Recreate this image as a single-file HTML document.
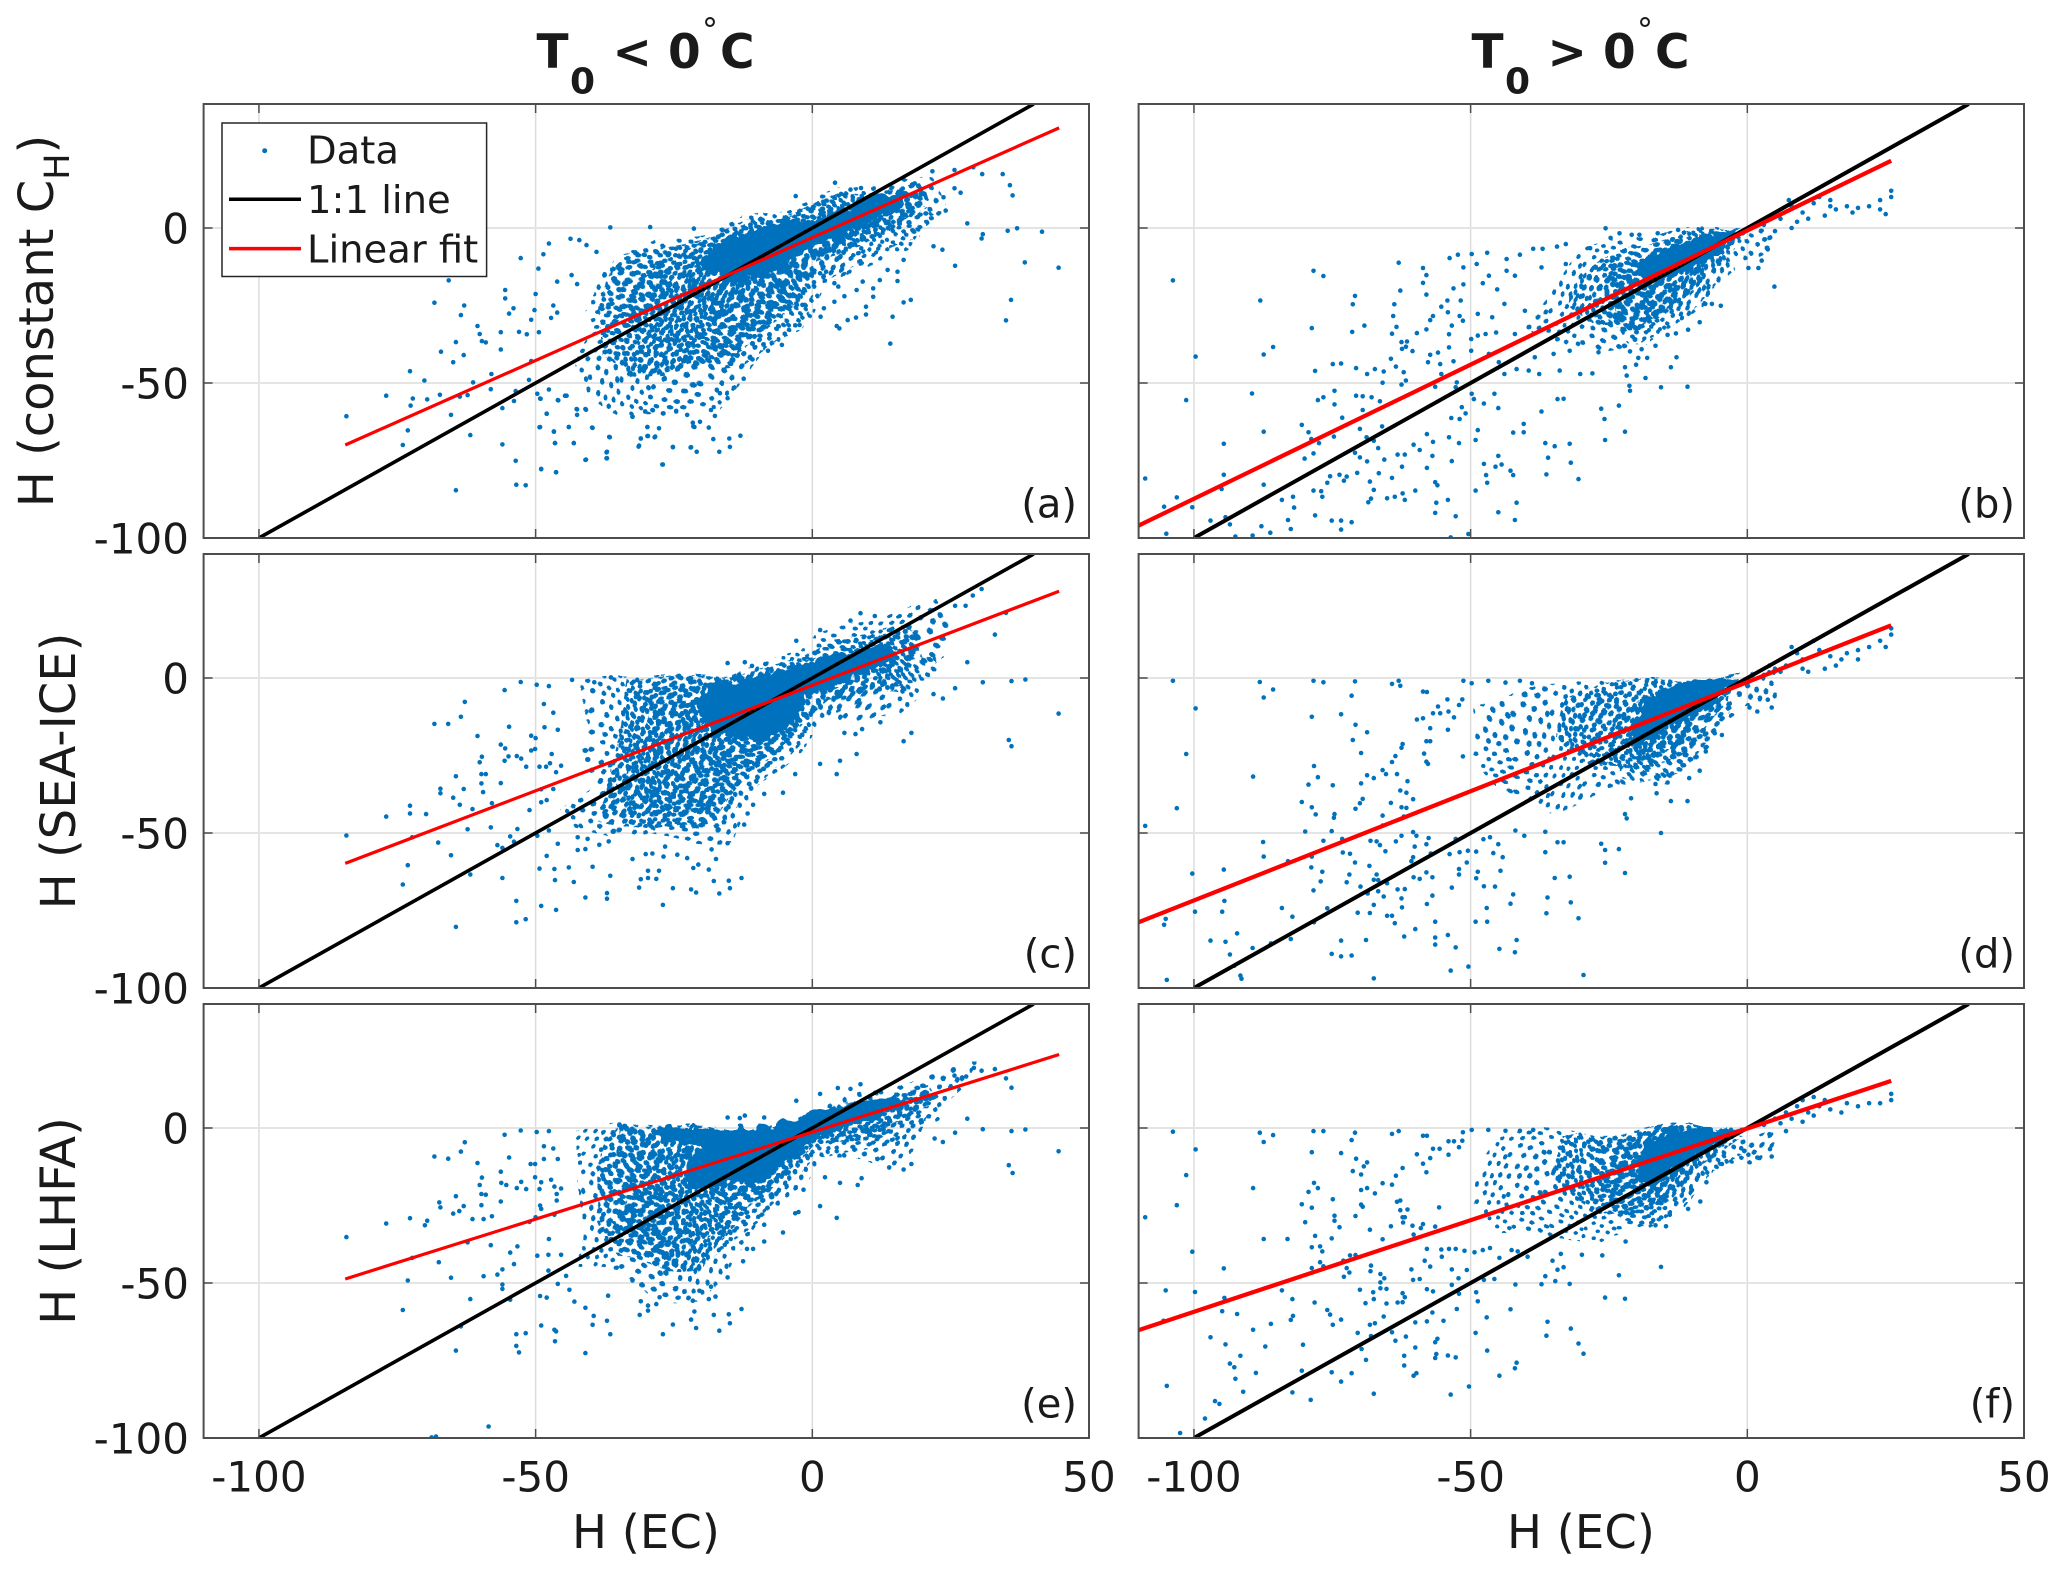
<!DOCTYPE html>
<html lang="en">
<head>
<meta charset="utf-8">
<title>Sensible heat flux comparison</title>
<style>
html,body{margin:0;padding:0;background:#fff}
svg{display:block}
text{font-family:"DejaVu Sans","Liberation Sans",sans-serif;fill:#1a1a1a}
pattern circle{r:2.5px}
</style>
</head>
<body>
<svg id="chart" xmlns="http://www.w3.org/2000/svg" width="2067" height="1572" viewBox="0 0 2067 1572">
<defs>
<filter id="jitter" x="-15%" y="-15%" width="130%" height="130%" color-interpolation-filters="sRGB"><feTurbulence type="fractalNoise" baseFrequency="0.014" numOctaves="1" seed="7" result="n"/><feDisplacementMap in="SourceGraphic" in2="n" scale="34" xChannelSelector="R" yChannelSelector="G"/></filter>
<filter id="rough" x="-15%" y="-15%" width="130%" height="130%" color-interpolation-filters="sRGB"><feTurbulence type="fractalNoise" baseFrequency="0.09" numOctaves="2" seed="3" result="n"/><feDisplacementMap in="SourceGraphic" in2="n" scale="18" xChannelSelector="R" yChannelSelector="G"/></filter>
<pattern id="scatterA" patternUnits="userSpaceOnUse" width="37" height="37" fill="#0072BD"><circle cx="5" cy="4" r="2.2"/><circle cx="14" cy="8" r="2.2"/><circle cx="24" cy="3" r="2.2"/><circle cx="32" cy="11" r="2.2"/><circle cx="9" cy="15" r="2.2"/><circle cx="20" cy="17" r="2.2"/><circle cx="29" cy="21" r="2.2"/><circle cx="4" cy="24" r="2.2"/><circle cx="13" cy="27" r="2.2"/><circle cx="23" cy="28" r="2.2"/><circle cx="33" cy="31" r="2.2"/><circle cx="7" cy="33" r="2.2"/><circle cx="17" cy="34" r="2.2"/><circle cx="27" cy="12" r="2.2"/></pattern>
<pattern id="scatterB" patternUnits="userSpaceOnUse" width="43" height="43" fill="#0072BD"><circle cx="4" cy="7" r="2.2"/><circle cx="11" cy="3" r="2.2"/><circle cx="19" cy="9" r="2.2"/><circle cx="28" cy="5" r="2.2"/><circle cx="37" cy="8" r="2.2"/><circle cx="7" cy="15" r="2.2"/><circle cx="15" cy="17" r="2.2"/><circle cx="24" cy="14" r="2.2"/><circle cx="33" cy="17" r="2.2"/><circle cx="40" cy="22" r="2.2"/><circle cx="3" cy="24" r="2.2"/><circle cx="11" cy="26" r="2.2"/><circle cx="20" cy="24" r="2.2"/><circle cx="28" cy="27" r="2.2"/><circle cx="36" cy="30" r="2.2"/><circle cx="6" cy="34" r="2.2"/><circle cx="15" cy="35" r="2.2"/><circle cx="24" cy="38" r="2.2"/><circle cx="32" cy="38" r="2.2"/><circle cx="39" cy="39" r="2.2"/></pattern>
<pattern id="scatterC" patternUnits="userSpaceOnUse" width="31" height="31" fill="#0072BD"><circle cx="4" cy="5" r="2.2"/><circle cx="12" cy="3" r="2.2"/><circle cx="21" cy="6" r="2.2"/><circle cx="27" cy="13" r="2.2"/><circle cx="8" cy="11" r="2.2"/><circle cx="16" cy="13" r="2.2"/><circle cx="3" cy="18" r="2.2"/><circle cx="11" cy="21" r="2.2"/><circle cx="20" cy="19" r="2.2"/><circle cx="27" cy="24" r="2.2"/><circle cx="6" cy="27" r="2.2"/><circle cx="15" cy="28" r="2.2"/><circle cx="23" cy="28" r="2.2"/></pattern>
<pattern id="scatterD" patternUnits="userSpaceOnUse" width="29" height="29" fill="#0072BD"><circle cx="3" cy="4" r="2.2"/><circle cx="11" cy="6" r="2.2"/><circle cx="19" cy="3" r="2.2"/><circle cx="25" cy="10" r="2.2"/><circle cx="7" cy="13" r="2.2"/><circle cx="15" cy="14" r="2.2"/><circle cx="22" cy="19" r="2.2"/><circle cx="4" cy="21" r="2.2"/><circle cx="12" cy="24" r="2.2"/><circle cx="20" cy="26" r="2.2"/><circle cx="26" cy="25" r="2.2"/></pattern>
</defs>

<g font-weight="bold" font-size="47">
<text x="536.5" y="68">T</text><text x="570" y="93.5" font-size="36">0</text><text x="612.5" y="68">&lt;</text><text x="668" y="68">0</text><text x="702" y="41" font-size="32" font-weight="normal">°</text><text x="720" y="68">C</text>
</g>
<g font-weight="bold" font-size="47">
<text x="1471.5" y="68">T</text><text x="1505" y="93.5" font-size="36">0</text><text x="1547.5" y="68">&gt;</text><text x="1603" y="68">0</text><text x="1637" y="41" font-size="32" font-weight="normal">°</text><text x="1655" y="68">C</text>
</g>

<text font-size="48" text-anchor="middle" transform="translate(53,321) rotate(-90)">H (constant C<tspan font-size="35" dy="16">H</tspan><tspan dy="-16">)</tspan></text>
<text font-size="48" text-anchor="middle" transform="translate(75,771) rotate(-90)">H (SEA-ICE)</text>
<text font-size="48" text-anchor="middle" transform="translate(75,1221) rotate(-90)">H (LHFA)</text>
<text font-size="46.5" text-anchor="middle" x="646" y="1548">H (EC)</text>
<text font-size="46.5" text-anchor="middle" x="1581" y="1548">H (EC)</text>

<g id="panels"></g>

<g>
<rect x="222" y="123" width="264.6" height="153.5" fill="#fff" stroke="#262626" stroke-width="1.5"/>
<circle cx="264.7" cy="150.7" r="2.5" fill="#0072BD"/>
<text x="307" y="163.6" font-size="38.5">Data</text>
<line x1="229" y1="199.3" x2="301" y2="199.3" stroke="#000" stroke-width="3.5"/>
<text x="307" y="213" font-size="38.5">1:1 line</text>
<line x1="229" y1="248.6" x2="301" y2="248.6" stroke="#f00" stroke-width="3.5"/>
<text x="307" y="262.5" font-size="38.5">Linear fit</text>
</g>
</svg>

<script>
const xTicks = [-100, -50, 0, 50];
const yTicks = [-100, -50, 0];
const identityLine = [[-100, -100], [40, 40]];

const fitA = [[-84.4, -70], [44.6, 32.3]];
const fitB = [[-110, -96], [26, 21.7]];
const fitC = [[-84.4, -59.8], [44.6, 28]];
const fitD = [[-110, -78.8], [26, 17]];
const fitE = [[-84.4, -48.7], [44.6, 23.7]];
const fitF = [[-110, -65.2], [26, 15.2]];

const cloudA = [[-34.4,-9.2],[-29.2,-2.8],[-19.6,-1.7],[-12.2,4.7],[-3.4,5.8],[4.7,12.3],[14.3,14.4],[21.7,15.5],[23.9,6.9],[20.2,-1.7],[17.3,-9.2],[8.4,-13.5],[0.3,-15.7],[-2.7,-31.8],[-9.3,-39.4],[-13,-46.9],[-17,-57],[-24,-58],[-34.4,-60],[-41.7,-54],[-43.2,-44.7],[-39.5,-34],[-41,-27.5],[-38.8,-21.1]];
const midA = [[-33,-7],[-20,-3],[-12,3],[-3,4.5],[4.5,10],[14,12],[20,13.5],[21,7],[15,-1],[9,-4],[0,-10],[-3,-22],[-9,-33],[-15,-41],[-24,-45],[-33,-48],[-38,-44],[-38,-34],[-38,-25]];
const denseA = [[-34.4,-27.5],[-28.5,-10.3],[-21.1,-3.9],[-12.2,1.5],[-3.4,3.6],[4.7,10.1],[18,12.3],[21,9],[17.3,0.4],[8.4,-3.9],[0.3,-9.2],[-2.7,-21],[-8.6,-31.6],[-15.2,-38],[-23.3,-40.2],[-31.4,-41.3]];
const coreA = [[-20,-12],[-18,-6],[-12.2,-1.7],[-4.9,2.6],[1,2.6],[9.9,10.1],[18,11.2],[14.3,4.2],[8.4,-0.1],[-1.2,-7.1],[-4,-13],[-9.3,-16],[-15,-17.5]];

const cloudB = [[-36.5,-20.2],[-29.1,-7.3],[-23.2,-3],[-14.4,-1.4],[-1.8,0],[4.8,2.9],[4.8,-6.2],[-4.1,-11.6],[-7,-23.4],[-17.3,-35.3],[-26.9,-40.6],[-35.8,-35.3],[-40.2,-31]];
const midB = [[-32.1,-20.2],[-26.9,-13.8],[-21.8,-6.2],[-14.4,-3],[-3.3,-0.6],[0.4,-0.3],[-4.1,-10.5],[-10.7,-21.3],[-19.5,-32],[-26.9,-31],[-32.1,-24.5]];
const denseB = [[-25.4,-24.5],[-24,-15.9],[-19.5,-8.4],[-14.4,-5.2],[-7,-3],[-4.1,-7.3],[-8.5,-14.8],[-14.4,-24.5],[-20.3,-32],[-24,-30.9]];
const coreB = [[-20.3,-11.6],[-15.9,-7.3],[-7,-1.4],[-1.1,-0.3],[-4.1,-7.3],[-12.2,-14.3],[-17.3,-17],[-19.9,-15.9]];

const cloudC = [[-42.6,-3],[-36.1,0],[-16,0],[-8.7,4],[-1.5,8.8],[1.8,15.8],[8.2,19.6],[12.3,19.6],[21.9,23.9],[24.4,17.4],[22.7,7.7],[18.7,1.3],[17.9,-8.4],[14.7,-14.8],[8.2,-13.8],[0.2,-11.6],[-2.3,-20.2],[-7.1,-28.8],[-11.9,-40.6],[-15.2,-52.5],[-21.6,-54.6],[-28.1,-50.3],[-42.6,-48.2],[-45,-42.8],[-40.2,-35.3],[-42.2,-24.5],[-41,-15.9],[-42.2,-8.4]];
const midC = [[-33.7,-0.9],[-15.2,-0.3],[-5.5,2.9],[0.2,7.7],[4.2,13.1],[16.3,16.3],[20.3,12],[17.1,2.4],[15.5,-7.3],[2.6,-7.3],[-3.1,-15.9],[-8.7,-26.7],[-14.4,-37.4],[-20,-47.1],[-28.1,-48.2],[-37.7,-44.9],[-37.7,-33.1],[-36.1,-19.1],[-34.5,-8.4]];
const denseC = [[-31.3,-6.2],[-20,-0.9],[-3.9,2.4],[8.2,11],[19.5,14.2],[19.5,6.7],[12.3,0.2],[0.2,-6.2],[-5.5,-20.2],[-11.9,-29.9],[-20,-42.8],[-29.7,-43.9],[-36.1,-35.3],[-36.1,-20.2]];
const coreC = [[-18,-1],[-11.9,-0.3],[-4.7,2.4],[-0.6,5.6],[7.4,8.8],[14.7,11],[14.7,5.6],[5.8,-0.9],[-0.6,-5.2],[-3.1,-13.8],[-7.9,-19.7],[-15.2,-20.2],[-20,-13.8],[-20.8,-6.2]];

const cloudD = [[-49,-10.5],[-40.2,-5.2],[-33.6,-1.9],[-28.4,-0.3],[-1.8,0],[4.8,1.3],[4.8,-7.3],[-3.3,-10.5],[-7,-23.4],[-18.1,-33.1],[-26.9,-39.6],[-35,-41.7],[-45.4,-35.3],[-49.8,-24.5]];
const midD = [[-33.6,-7.3],[-26.2,-0.9],[-3.3,-0.3],[-4.1,-8.4],[-9.2,-20.2],[-18.8,-29.9],[-27.7,-29.9],[-30.6,-24.5],[-35,-18.1]];
const denseD = [[-24.7,-28.8],[-24,-13.8],[-18.1,-5.2],[-7,-1.4],[-4.1,-6.2],[-10,-15.9],[-16.6,-26.7],[-23.2,-28.8]];
const coreD = [[-18.8,-7.3],[-12.9,-1.9],[-4.1,-0.6],[-1.8,-0.9],[-7,-9.5],[-12.9,-14.8],[-17.3,-20],[-21,-22],[-21,-16]];

const cloudE = [[-43.4,-0.3],[-11.9,0.4],[-4.7,3.4],[-1.5,7.2],[4.2,11],[9,13.7],[20.3,16.9],[29.2,19.6],[26.8,12],[19.5,3.4],[18.7,-6.2],[15.5,-13.8],[9,-10.5],[0.2,-10.5],[-3.9,-17],[-9.5,-28.8],[-11.9,-39.6],[-15.2,-49.2],[-21.6,-54.6],[-28.1,-54.6],[-37,-44.9],[-43.4,-42.8],[-41,-33.1],[-41.8,-20.2],[-41.8,-10.5]];
const midE = [[-34.5,-0.6],[-11.9,0],[-3.9,2.9],[4.2,8.8],[13.1,12],[20.3,14.2],[21.1,8.8],[15.5,2.4],[11.5,-3],[0.2,-6.2],[-4.7,-14.8],[-11.9,-25.6],[-15.2,-35.3],[-20,-46],[-26.5,-44.9],[-34.5,-41.7],[-37.7,-29.9],[-37.7,-15.9],[-36.9,-6.2]];
const denseE = [[-34.5,-0.9],[-11.9,-0.2],[-2.3,3.4],[10.6,9.9],[20.3,13.1],[20.3,7.7],[11.5,0.2],[0.2,-5.2],[-5.5,-15.9],[-12.7,-26.7],[-20,-38.5],[-29.7,-39.6],[-36.1,-28.8],[-34.5,-11.6]];
const coreE = [[-28.1,0],[-10.3,0],[-3.1,3.4],[1,6.1],[10.6,8.8],[15.5,11],[16.3,6.7],[6.6,0.2],[-0.2,-4.1],[-3.1,-10.5],[-7.9,-15.9],[-15.2,-18.1],[-22.4,-20.2],[-23.2,-11.6],[-20,-6.2],[-27.3,-4.1]];

const cloudF = [[-49,-10.5],[-45.4,-3],[-34.3,0],[0.4,0.2],[4.8,0.8],[4.8,-8.4],[-4.1,-11.6],[-9.2,-20.2],[-14.4,-28.8],[-26.2,-39.6],[-36.7,-37.4],[-45.4,-35.3],[-49.8,-22.4]];
const midF = [[-33.6,-3],[-29.9,-0.3],[-1.1,-0.1],[-5.5,-9.5],[-11.4,-17],[-19.5,-28.8],[-26.9,-26.7],[-29.9,-22.4],[-35,-15.9]];
const denseF = [[-24,-24.5],[-27.7,-11.6],[-21.8,-1.9],[-2.6,-0.6],[-7,-8.4],[-13.6,-17],[-19.5,-27.7]];
const coreF = [[-18.8,-5.2],[-14.4,-0.6],[-0.4,0],[-4.1,-4.1],[-11.4,-11.6],[-16.6,-18.1],[-18.8,-18.1],[-20.3,-11.6]];

const pointsA = [[-84.2,-60.7],[-77,-54.1],[-72.7,-46.2],[-70.1,-49.2],[-72.2,-55],[-72.6,-57.3],[-69.6,-55.3],[-67.3,-53.8],[-73.1,-65.3],[-74,-70],[-68.3,-24.1],[-65.7,-16.9],[-62.9,-25],[-63.5,-28.1],[-60.5,-31.6],[-60.1,-34.2],[-59.7,-36.5],[-59,-36.9],[-64.4,-36.8],[-67.1,-39.9],[-63,-41],[-64.9,-43.3],[-58,-47.1],[-61.3,-49.8],[-58.1,-52],[-63.7,-54.4],[-62.3,-53.9],[-65.3,-60.3],[-61.8,-66.8],[-56,-58.1],[-53.9,-55.8],[-56,-69.8],[-53.6,-75.1],[-64.4,-84.6],[-53.5,-82.8],[-51.8,-83],[-55.5,-20],[-55.5,-22.7],[-54,-25.9],[-54.8,-27.6],[-50,-21.3],[-52.7,-9.7],[-49.5,-13.1],[-48.6,-8.5],[-47.6,-5],[-43.7,-3.5],[-42.1,-3.9],[-40.8,-5.5],[-39,-7.7],[-46.1,-17.3],[-43.5,-15.2],[-42.5,-18.1],[-50.8,-29.6],[-50.2,-26.5],[-56.3,-33.6],[-53,-33.5],[-51.6,-34.3],[-49.4,-33.6],[-47.2,-29],[-46.8,-25],[-46.1,-27.3],[-56.3,-39.2],[-50.8,-42.9],[-51.2,-49],[-53.6,-52.6],[-47.6,-52.1],[-49.2,-55],[-46,-55.5],[-48,-59.9],[-42.6,-58.4],[-41,-58.4],[-44.4,-54.1],[-49.2,-64.2],[-46.7,-65.7],[-44,-64.2],[-46.5,-69.4],[-43.1,-69.4],[-39.8,-64.4],[-36.7,-67.4],[-41,-74.8],[-37.1,-72.2],[-37.1,-74.3],[-49,-77.8],[-46.3,-78.8],[-32.5,-60.9],[-29.8,-64.2],[-31,-67.9],[-28.4,-67.3],[-31.3,-70.2],[-29.7,-67.1],[-25.2,-70.7],[-27,-76.3],[-21.9,-70.7],[-21.3,-64.2],[-30.2,-59.2],[-28.8,-58.8],[-26.9,-59.8],[-24.6,-59.2],[-36.5,0.2],[-29.3,0.3],[-21.4,-0.2],[44.5,-12.8],[38.4,-11.1],[41.5,-1.2],[37,-0.1],[35.3,-0.9],[35.7,13.8],[36.2,10.5],[34.4,17.4],[30.7,17.4],[29.1,19.6],[25.7,18.7],[35.9,-23.2],[35,-29.8],[14.1,-37.3],[17.8,-23.2],[16.5,-24],[14.5,-28.6],[28,1.5],[30.8,-2],[30.6,-3.4],[25.8,-12.2],[23.5,-7],[21.9,-5.9],[26.8,11.4],[25.7,12.8],[24.1,5.6],[23.7,9.9],[21.7,18.3],[18.5,14.4],[16.5,15.7],[4.9,-32.4],[4.4,-31.6],[9.7,-27.9],[9.7,-25.4],[7.9,-28.9],[6.4,-29.7],[1.5,-28.6],[2.1,-25.9],[4.1,14.6],[-3,10.3],[6.9,12.4],[8.8,12.9],[-13,-67],[-15,-67.9],[-14.9,-70.6],[-16.8,-72.2],[-20.9,-72.2],[-22,-70.8],[-17.9,-68.1],[-18.7,-64.4],[-17.6,-60.6],[-18.3,-58.7],[-15.3,-54.9],[-16.7,-53.3],[-12.4,-48.6],[-10.8,-42.4],[-8,-39.6],[-5.5,-37.7],[-2.3,-31.3],[-1.8,-24.8],[0.3,-17.5],[-27.1,-76.3],[-25.2,-70.6],[-31.4,-70.5],[-31,-67.9],[-29.8,-67.1],[-28.5,-67.5],[-29.8,-64.2],[-27.7,-64.6],[-32.5,-60.9],[-37.2,-72.4],[-37.2,-74.3],[-36.6,-67.5],[-40.9,-74.7],[-43.1,-69.4],[-46.5,-69.4],[-46.7,-65.6],[-49.3,-64.3],[-44,-64.2],[-39.7,-64.5],[-46.3,-78.8],[-49,-77.7],[-21.5,-64],[-21.6,-62.8],[-20.3,-62.5],[-22.6,-60.3],[-24.6,-59],[-27,-59.8],[-28.9,-58.7],[-30.2,-59.2],[-42.5,-58.5],[-40.9,-58.6],[-42.5,-60.3],[-48,-59.9],[-44.7,-54.1],[-45.9,-55.6],[-49.7,-53.5],[-49.1,-55.1],[1.4,-14.6],[2.5,-14.1],[4,-17.8],[4.7,-18.9],[5.8,-22],[4,-23.8],[8,-20],[9.1,-17.3],[11,-19.5],[11,-22.2],[12.2,-16.8],[13.6,-13.5],[15.4,-14.1],[15.4,-17.1],[16.5,-10.3]];

const pointsB = [[-103.8,-16.9],[-108.8,-80.8],[-78.4,-13.8],[-76.6,-15.5],[-63,-11.2],[-58.6,-12.9],[-58,-15.2],[-58.6,-17.7],[-58,-21.5],[-62.7,-20.2],[-70.9,-21.9],[-71.3,-24.6],[-88,-23.4],[-63.8,-24.6],[-64,-28.4],[-69.2,-31.5],[-71.4,-33.5],[-78.7,-32.3],[-85.7,-38.4],[-87.4,-40.8],[-99.7,-41.5],[-63.4,-31.9],[-64.2,-34.1],[-59.7,-33.9],[-58,-32.7],[-62.5,-36.8],[-61.5,-36.6],[-62.4,-39],[-61.7,-38.3],[-60.5,-39.7],[-64.4,-42.2],[-74.9,-43.9],[-73.4,-43.7],[-78.1,-46.1],[-70.7,-45.2],[-68.7,-47.1],[-67.3,-45.5],[-65.7,-46.3],[-63.5,-44.7],[-62.1,-46.5],[-65.9,-49.9],[-62.5,-50.5],[-61.7,-49.2],[-89.5,-53.4],[-101.4,-55.5],[-74.6,-52.5],[-76.6,-54.6],[-77.6,-55.5],[-70.7,-54.1],[-69.5,-54.3],[-67.9,-54.6],[-66.4,-55.9],[-74.6,-56.9],[-69.5,-58.7],[-73.2,-61.2],[-80.5,-63.5],[-79.3,-65.9],[-87.4,-65.7],[-78.8,-68.1],[-77.4,-69.4],[-74.7,-67.3],[-70,-64.8],[-66,-64],[-94.6,-69.6],[-94.6,-79.6],[-87.4,-82.8],[-95,-84.2],[-103.1,-86.9],[-105.4,-89.9],[-100.3,-90.1],[-97,-94.4],[-94.3,-93.3],[-93.5,-95.6],[-105,-98.6],[-92.5,-99.5],[-89.4,-99.2],[-87.8,-96.2],[-86.2,-98.3],[-83,-94.2],[-82.5,-97.1],[-84.1,-87.7],[-82.1,-86.7],[-81.9,-90.2],[-78.4,-84.7],[-77,-84.9],[-76.8,-86.7],[-78.1,-92.7],[-75.1,-94.4],[-73.4,-94.4],[-73.4,-97.3],[-71.5,-94.9],[-75.9,-82.2],[-75.4,-80.1],[-73.7,-79.6],[-72.9,-81.5],[-72.4,-80.2],[-70.5,-79],[-68.2,-81.8],[-67.5,-84.5],[-66.6,-79.1],[-64.2,-80.6],[-68,-87.3],[-68.5,-88.5],[-65.1,-87.2],[-63.7,-86.7],[-62.3,-85.6],[-61.9,-87.7],[-60,-84.7],[-56.4,-82],[-56,-83],[-56.2,-88.6],[-54.1,-87.7],[-56.4,-91.9],[-52.7,-93],[-50.4,-98.7],[-53.6,-99.8],[-49.1,-84.7],[-47.2,-79.7],[-47,-82.2],[-47.6,-76.1],[-45.5,-77],[-45,-73.5],[-44.4,-76.3],[-42.8,-78.3],[-42.3,-79.7],[-41.7,-88.6],[-45,-91.7],[-42,-94.2],[-36.3,-79.5],[-36,-74.1],[-36.5,-69.4],[-34.8,-70.4],[-32.1,-69.6],[-31.9,-75.7],[-30.5,-81],[-42.3,-66],[-40.4,-63.2],[-40.4,-65.9],[-37.2,-59.2],[-26.4,-58.3],[-25.8,-61.6],[-22.1,-65.7],[-25.7,-68.4],[-23.2,-57.3],[-34.3,-55.2],[-33.2,-55.1],[-15.6,-51.4],[-10.8,-51.2],[-21.2,-52.5],[-21.3,-50.9],[-18.4,-48.4],[-13.8,-44.9],[-12.8,-41.7],[-54.2,-23.4],[-51.8,-23.4],[-53.1,-19.5],[-51.3,-18.2],[-47.8,-17.8],[-45.2,-19.8],[-46.7,-15.4],[-43.5,-13.8],[-42,-15.4],[-55.3,-25.4],[-54.1,-27.2],[-52,-28.4],[-51.4,-29.9],[-56.8,-28.4],[-57.3,-29.7],[-53.4,-31.5],[-53.9,-34.3],[-53.9,-38.5],[-55.9,-40.2],[-57.3,-40.9],[-57.7,-43.3],[-53.1,-43],[-55.5,-43.9],[-55.3,-47.1],[-56.4,-51.2],[-52.7,-51.4],[-52.5,-49.8],[-49.8,-53.5],[-47.6,-56.6],[-45.7,-53.5],[-45,-58.1],[-49.4,-55.2],[-51.6,-57.8],[-50.9,-59.8],[-53.5,-61.3],[-52,-61.6],[-48.7,-65.2],[-49.1,-68.4],[-52.1,-69.4],[-53.9,-67.5],[-56.8,-69],[-57.9,-66.5],[-60.3,-69.9],[-59.2,-71.6],[-56.9,-73.5],[-57.9,-77.4],[-53.4,-75.2],[-62.4,-77],[-61.9,-73.1],[-63.2,-73.1],[-65.6,-74.7],[-68.7,-75.3],[-70,-74],[-70.9,-72.5],[-66.7,-71],[-67.5,-68.6],[-68.8,-67.5],[-78.4,-72.7],[-80,-74.4],[-46.1,-28.8],[-43.9,-24.5],[-40.2,-26.7],[-48.7,-27.7],[-48.7,-34.7],[-49.9,-35.8],[-47.3,-34.2],[-45.4,-33.7],[-42,-34.2],[-49.9,-39.6],[-46.7,-40.6],[-44.9,-43.3],[-41.7,-45.5],[-38.4,-41.7],[-39.5,-46],[-37.6,-47.1],[-43.9,-47.1],[-35,-40.6],[-32.1,-39.6],[-33.9,-46],[-30.2,-47.1],[-28,-46.9],[-26.9,-40.1],[-22.1,-44.9],[-21.8,-47.6],[-20.1,-44.1],[-19.7,-41.9],[-18.1,-41.9],[-19.1,-39.1],[-21.2,-39.8],[-16.6,-38],[-14.4,-34.5],[-12.9,-34],[-10.7,-32.8],[-8.6,-30.4],[-4.8,-25.1],[-6.4,-24.5],[-7.6,-24.5],[4.9,-18.9],[0.2,-12.9],[2,-12.9],[3.7,-6.9],[2.6,-10.5],[-25.6,-0.1],[-23.1,-1.7],[-24.7,-3.2],[-20.9,-2.2],[-19.5,-2.2],[-16.2,-1.7],[-12.5,-0.6],[-32.8,-5.2],[-34.4,-6],[-38.7,-6.7],[-37,-6.7],[-47,-8],[-49.8,-8.4],[-52.3,-8.6],[-53.8,-9.7],[-51.3,-12.7],[-48.9,-11.6],[-43.5,-10],[-41.1,-8.6],[-37.2,-12.7],[-32.8,-11.6],[-28.4,-6.5],[7.5,9],[8,7],[10,5],[12,8],[15,9],[18,7],[20,6.5],[22,7],[24,6],[25,4.5],[26,10],[26,12],[14,4],[6,3],[9,2],[3,1],[5,-1],[8,0],[11,3],[13,10],[16,6],[19,5],[24,9],[15,7]];

const pointsC = [[-84.2,-50.8],[-77,-44.7],[-72.7,-41.2],[-72.7,-43.7],[-69.8,-43.9],[-68.3,-14.8],[-65.8,-14.8],[-63.5,-12.5],[-62.8,-7.7],[-60.5,-18.7],[-55.6,-3.9],[-52.7,-1.3],[-54.8,-15.7],[-49.8,-2.2],[-47.6,-2.6],[-48.5,-8.4],[-46.8,-11.2],[-48.4,-15.9],[-46,-16.7],[-50.8,-18.6],[-50,-19.4],[-56.3,-21.5],[-55.5,-22.7],[-50.8,-23.4],[-50.1,-22.9],[-47.1,-24.5],[-59.7,-25.4],[-60.1,-27.2],[-55.6,-26.7],[-54.9,-25.3],[-53.4,-25.2],[-52.6,-26],[-51.7,-28.6],[-49.3,-28.6],[-48.1,-28.6],[-47.4,-27.5],[-45.4,-28.3],[-46.3,-30.4],[-64.4,-31.7],[-59.8,-31],[-59,-31],[-59.8,-34],[-56.3,-33.9],[-59.5,-36.8],[-63,-35.8],[-67.2,-35.7],[-67.2,-37.2],[-64.9,-38.6],[-63.7,-40.9],[-57.9,-40.4],[-61.4,-42.3],[-51.1,-42.6],[-49,-40.1],[-48,-39.4],[-46.8,-35.8],[-49,-35.9],[-62.3,-48.8],[-58.1,-48.2],[-53.3,-48.7],[-72.3,-51.4],[-67.6,-53.1],[-65.3,-57.2],[-56.9,-53.9],[-54.6,-51.1],[-53.9,-52.8],[-56,-54.8],[-49.7,-50.9],[-47.6,-49.2],[-46,-53.5],[-73.1,-60.4],[-74,-66.6],[-61.8,-63.4],[-56,-64.5],[-48,-57.4],[-49.3,-61.5],[-46.6,-61.6],[-46.5,-65.2],[-44,-61.1],[-43.1,-65.8],[-39.7,-60.9],[-36.5,-63.8],[-41,-70.8],[-37.1,-69.4],[-37.1,-71.2],[-53.5,-71.9],[-49,-73.5],[-46.3,-74.8],[-53.5,-78.8],[-51.8,-77.8],[-64.4,-80.3],[-42.4,-51.4],[-42.4,-55.5],[-40.6,-51.9],[-41,-55.2],[-38.5,-53.8],[-36.8,-52.7],[-32.5,-58.4],[-30.1,-56.8],[-28.9,-56.6],[-26.9,-57.6],[-26.6,-54.4],[-24.4,-57],[-22.6,-58.1],[-21.5,-61.3],[-29.7,-62.2],[-27.7,-62.2],[-31,-64.9],[-29.7,-64.5],[-28.2,-64.8],[-31.3,-67.6],[-27,-73.2],[-25.2,-67.8],[-21.9,-68.2],[-21,-69.2],[-16.8,-69.5],[-14.9,-67.8],[-17.8,-65.5],[-15.1,-65.4],[-12.8,-64.5],[-18.7,-61.8],[-20.6,-60.2],[-18.2,-55.3],[-17.4,-58.4],[-15.3,-53.3],[8,-24.5],[1.4,-27.7],[5,-26.7],[4.4,-31],[-3.1,-31],[-5.3,-37],[-8.7,-37.4],[-10.7,-40.9],[-12.3,-47.3],[-11.7,-43.7],[16.5,-20.4],[17.9,-17.7],[23.6,-6.6],[21.9,-5.2],[25.8,-3.3],[30.8,-1.4],[28,5.1],[29,26.6],[30.6,28.7],[27.7,23.3],[25.8,23.3],[8.7,20.9],[11.3,20],[6.9,18.5],[-2.9,12],[1.4,15.5],[-15.3,4.8],[-12.2,5.1],[-10.9,3.9],[-8.5,4.5],[5.8,-17.7],[7.8,-18.1],[12.3,-14.3],[9,-16.5],[-43.4,-0.6],[-39.4,-1.4],[-36.4,0.2],[44.5,-11.5],[38.5,-0.5],[36,-1],[35.5,-20],[36,-22],[33,14],[35,21]];

const pointsD = [[-103.8,-0.9],[-88.1,-1.3],[-85.7,-3.7],[-87.4,-6.3],[-78.4,-0.9],[-76.6,-1.4],[-70.9,-1.1],[-64.2,-1.9],[-63,-0.9],[-62.7,-2.5],[-51.3,-0.9],[-49.8,-1.7],[-46.8,-0.9],[-43.7,-1.5],[-41.1,-0.9],[-38.9,-1.7],[-58.6,-4.4],[-57.9,-4.5],[-71.5,-5.7],[-99.7,-9.8],[-78.7,-12.5],[-73.4,-11.7],[-101.4,-24.5],[-70.8,-15.1],[-68.7,-17.5],[-71.3,-20],[-69.8,-24.2],[-62.3,-21.3],[-62.5,-22.5],[-63.6,-25.2],[-64.2,-27.1],[-59.7,-13.4],[-58.6,-13],[-57.3,-16.2],[-58,-20.4],[-57.3,-20.4],[-58.4,-24.4],[-58,-27],[-57.7,-27.7],[-56.8,-11.4],[-55.9,-9.2],[-55.5,-11.4],[-54.1,-16.7],[-54,-10.8],[-53,-12.7],[-54.2,-6.9],[-52.1,-8.7],[-51.5,-6.9],[-51.4,-25.3],[-89.3,-31.8],[-103.1,-42],[-108.8,-47.7],[-78.3,-28.4],[-77.6,-32],[-79.3,-34.4],[-74.9,-34.6],[-80.5,-40],[-78.7,-41.7],[-78,-44],[-74.6,-43.9],[-74.7,-45.1],[-79.9,-49.5],[-75.1,-49.4],[-69.8,-34],[-68.7,-31.4],[-67.5,-32.3],[-65.9,-29.7],[-65.3,-31],[-63.3,-31],[-69.5,-39],[-70,-40.4],[-70.8,-42.2],[-64.4,-40.3],[-62.5,-41.7],[-61.6,-41.9],[-60.4,-39.1],[-62.7,-36.3],[-61.6,-37],[-61.4,-33.3],[-65.9,-44.4],[-65.9,-47.6],[-62.1,-44.7],[-73.2,-51.9],[-76.6,-52.5],[-68.1,-52.5],[-67,-52.7],[-66.4,-53.9],[-63.5,-52.7],[-65.4,-55.9],[-62.5,-50.9],[-60.4,-49.7],[-59.8,-50.9],[-60.1,-54.4],[-57.6,-51.6],[-58,-53.6],[-87.5,-52.9],[-87.4,-57.6],[-83,-59.1],[-78.7,-57.6],[-78.8,-61.1],[-73.1,-56.3],[-71.8,-56.7],[-70.9,-59.5],[-68.3,-60.6],[-60.4,-57.8],[-60.7,-59.1],[-57.2,-56.6],[-100.3,-63.1],[-94.6,-61.8],[-76.8,-62.5],[-77.1,-65.6],[-78.4,-68.5],[-71.9,-63.4],[-72.4,-65.9],[-69.9,-67.3],[-67,-63.4],[-67.5,-65.1],[-66.7,-65.2],[-65.1,-66.2],[-68.6,-69.5],[-66.7,-68.8],[-65.7,-70.5],[-63.2,-68.2],[-61.9,-68.1],[-62.5,-71.1],[-62.4,-74],[-67.5,-73.2],[-75.9,-74.3],[-84.1,-74.2],[-82.2,-77],[-94.5,-71.9],[-99.8,-75.4],[-94.9,-75.4],[-105.1,-77.7],[-105.4,-79.6],[-78.3,-78.8],[-70.4,-75.7],[-68.2,-75.8],[-65.1,-76.7],[-64.2,-76.7],[-63.7,-79.1],[-60,-81],[-62,-83.4],[-57.9,-72.9],[-56.9,-70.2],[-60.3,-64.3],[-59.2,-64.8],[-58,-62.7],[-56.9,-64.3],[-56.4,-78.6],[-56.4,-83.7],[-56.4,-86],[-54.1,-82.9],[-52.7,-86.9],[-92.2,-82.4],[-97,-84.7],[-94.3,-85.1],[-93.5,-89.2],[-89.4,-87.1],[-86.1,-85.6],[-82.5,-84.2],[-73.4,-84.7],[-68.9,-84.5],[-75.1,-89],[-73.4,-89.8],[-71.5,-89.5],[-92.7,-92.8],[-91.6,-96],[-91.4,-97],[-104.9,-97.4],[-67.5,-96.9],[-53.6,-94.4],[-50.4,-93.1],[-29.6,-95.8],[-44.8,-87.4],[-42,-88.5],[-41.7,-84.5],[-49.1,-78.6],[-47,-78.6],[-47.1,-74.2],[-53.4,-67.6],[-52.1,-61.6],[-52.1,-63.4],[-50.7,-59.5],[-48.7,-62.5],[-49,-64.6],[-47.6,-67.2],[-45.6,-67.3],[-44.6,-62.2],[-42.3,-69.8],[-42.8,-72.8],[-53.8,-56.8],[-52,-56.2],[-50.5,-55.7],[-49,-56],[-45.9,-56.5],[-44.2,-57.8],[-47.7,-52],[-46.5,-51.4],[-45,-53.6],[-41.9,-49.2],[-40.3,-50.9],[-52.7,-51.9],[-36.5,-49.6],[-34.3,-53],[-33.2,-53],[-36.5,-56.2],[-34.8,-64.5],[-32.1,-64.1],[-36.1,-70.8],[-31.9,-72.4],[-36.3,-75.9],[-30.5,-77.5],[-26.4,-53.5],[-25.7,-55.5],[-23.2,-55.2],[-25.7,-59.6],[-22.1,-62.9],[-15.6,-50],[-22.1,-43.9],[-21.8,-45.3],[-13.8,-39.7],[-10.8,-39.7],[-21,-38.8],[-16.4,-37.2],[-16.6,-34.2],[-14.4,-33.7],[-10.5,-32.3],[-8.6,-29.9],[-13.6,-30.8],[0.4,-9.5],[1.8,-10.8],[3.7,-7],[4.4,-9.5],[-5.9,-17.8],[-4.6,-18.4],[-7.5,-23.7],[-9.7,-21.1],[8,10],[9,8],[10,6],[12,12],[13,9],[15,7],[17,6],[18,8],[20,9],[22,10],[24,12],[26,14],[26,16],[25,10],[6,2],[5,3],[4,4],[7,4],[10,3],[3,1],[11,2],[14,3],[16,4],[20,6]];

const pointsE = [[-84.2,-35.2],[-77,-30.8],[-72.7,-29.1],[-70,-31.4],[-69.6,-29.9],[-68.3,-9.2],[-65.8,-9.9],[-63.5,-7.6],[-62.8,-4.6],[-60.5,-11.3],[-55.6,-2.2],[-52.7,-0.8],[-54.8,-9.5],[-49.8,-1.3],[-47.6,-1],[-48.5,-5.9],[-46.8,-6.6],[-48.5,-10],[-46,-10],[-50.9,-11.6],[-50.1,-11.6],[-56.3,-14.1],[-59.7,-16],[-60.1,-18.4],[-50.1,-15.9],[-56.2,-17.7],[-55.3,-18.4],[-52.6,-17.4],[-53.4,-19.4],[-51.7,-19.7],[-49,-17.5],[-49.3,-19.7],[-47.2,-16.7],[-46.6,-18.9],[-45.4,-19.5],[-46.2,-21.3],[-46.2,-23.4],[-59.8,-21.3],[-59,-21.5],[-64.4,-22],[-67.4,-24],[-67.2,-25.6],[-56.3,-23.7],[-59.8,-24.9],[-63,-25.2],[-63.8,-26.8],[-64.9,-27.6],[-61.4,-29.4],[-59.4,-29.4],[-57.9,-28.5],[-49.2,-25],[-49,-26.1],[-50,-28.8],[-51.1,-30.3],[-46.6,-28],[-62.3,-36.9],[-58.1,-37.8],[-53.3,-38.2],[-54.6,-40.2],[-72.3,-41.9],[-67.5,-43.3],[-53.9,-43.9],[-56,-45.6],[-56.9,-47.3],[-59.4,-47.8],[-65.3,-48.3],[-73.1,-49.2],[-56,-50.5],[-56,-51.9],[-61.8,-55.2],[-74,-58.7],[-54.6,-55.4],[-63.5,-64],[-53.5,-66.5],[-51.8,-66.2],[-49,-63.7],[-46.6,-65.1],[-46.3,-65.6],[-46.5,-68.8],[-53.5,-70.3],[-53,-72.4],[-64.4,-71.8],[-41,-72.6],[-58.5,-96.3],[-68,-99.5],[-68.8,-99.8],[-49.2,-54.2],[-48,-54.7],[-47.7,-46],[-49.7,-41.2],[-47.7,-40.9],[-47.6,-35.8],[-45.4,-40.9],[-46,-50.3],[-44.5,-47.7],[-43.9,-52.2],[-43,-56],[-41,-58],[-39.5,-60.6],[-39.7,-63.5],[-37.1,-62.2],[-36.5,-66.5],[-36.9,-54.1],[-32.5,-49.2],[-31,-55.9],[-29.7,-57.3],[-29.7,-58.9],[-28.2,-56.8],[-27.6,-54.6],[-31.2,-60.3],[-27,-66.5],[-25.2,-63.4],[-21.9,-61.8],[-21.3,-59.2],[-21,-64.5],[-17.8,-60.3],[-15.1,-60.1],[-14.9,-63],[-12.8,-58.4],[-16.8,-65.4],[-18.7,-55.2],[-17.5,-54.4],[-18.3,-51.2],[-20.4,-52.5],[-21.6,-55.7],[-24.6,-51.6],[-15.3,-48.2],[-12.5,-43],[-8.7,-36.6],[-5.3,-33.7],[-11.8,-39],[-10.7,-39],[-8.7,-31.2],[-3.1,-27.5],[-2.5,-27.1],[1.4,-25.2],[4.4,-29],[5,-17.7],[8.2,-18.4],[8.9,-16.2],[2.3,-15.9],[-1.6,-19.9],[17.9,-11.6],[16.5,-13.4],[13.9,-12.7],[23.6,-4.5],[22.1,-3.4],[25.8,-1.5],[30.8,-0.4],[28,3],[29.2,19.4],[30.6,18.5],[27.8,16.6],[25.7,16.9],[8.7,14.1],[6.9,12.6],[4.6,12.9],[1.4,11],[-2.9,8.8],[-15.3,3.4],[-13.1,3.2],[-12.2,4],[-8.7,3.4],[44.5,-7.5],[38.5,-0.5],[36,-1],[35.5,-12],[36.2,-14.5],[35,16],[36,13],[33,19]];

const pointsF = [[-103.8,-1.2],[-88.1,-1.5],[-85.7,-2.3],[-87.4,-4.5],[-78.4,-1],[-76.6,-1],[-70.9,-1.5],[-64.2,-1.9],[-63,-1],[-58.6,-2.5],[-57.9,-2.5],[-71.5,-3.9],[-99.7,-6.9],[-78.7,-7.8],[-73.4,-8.1],[-101.4,-15.2],[-70.7,-9.9],[-68.7,-11.1],[-69.3,-12.4],[-71.3,-13.9],[-69.8,-15],[-62.3,-12.9],[-63.5,-15.4],[-59.7,-8.5],[-58.6,-11.5],[-57.3,-9.7],[-58,-14.3],[-56.8,-6.7],[-55.6,-6.7],[-54,-4.3],[-53,-4.3],[-51.4,-1.4],[-49.8,-0.6],[-46.8,-0.6],[-43.7,-0.9],[-41.1,-0.9],[-38.7,-0.6],[-52.1,-6.2],[-51.5,-4.1],[-54,-8.6],[-89.3,-19.4],[-103.1,-24.9],[-108.8,-28.8],[-78.3,-17.7],[-77.6,-19.4],[-79.3,-20.6],[-74.9,-23],[-80.5,-24.6],[-78.7,-25.7],[-74.6,-28.3],[-79.9,-30.4],[-74.6,-29.9],[-73.7,-32],[-69.8,-20],[-68.7,-19.4],[-67.3,-21.1],[-65.9,-17.8],[-64.2,-18.3],[-69.8,-24.7],[-69.5,-25.4],[-70.8,-28.4],[-68.2,-32.8],[-64.4,-31.7],[-63.3,-23.8],[-62.7,-23.4],[-61.4,-26.3],[-62.7,-26.5],[-62.3,-28.8],[-61.9,-28.8],[-62.2,-30.5],[-60.5,-31.5],[-58.6,-31],[-59,-32.3],[-55.7,-25.6],[-56.4,-31.8],[-60.3,-34.4],[-65.9,-35.9],[-87.4,-35.8],[-83.1,-35.8],[-78.1,-34.8],[-75.1,-35.6],[-78.7,-38.5],[-77.2,-38.2],[-76.8,-39.8],[-100.3,-39.9],[-94.6,-45.3],[-77.2,-43.3],[-76.6,-44.6],[-78.7,-45.2],[-73,-42.8],[-71.8,-41.1],[-70.8,-41],[-72.4,-45.2],[-72.9,-48],[-71.9,-46.6],[-68,-44.4],[-68.1,-46.2],[-66.3,-47.1],[-65.6,-48.5],[-66.3,-49.8],[-66.3,-51.7],[-67.6,-53],[-70,-52.2],[-65.2,-51.9],[-67.5,-55.2],[-69,-56.5],[-65.2,-56.6],[-63.2,-56.3],[-62.3,-53.3],[-61.9,-54.6],[-62.3,-56.2],[-105.1,-52.4],[-99.8,-52.9],[-84.1,-52.4],[-94.5,-54.8],[-94.9,-59.1],[-92.2,-60],[-82.2,-55.2],[-78.2,-56.3],[-75.9,-58.7],[-75.4,-60.2],[-73.4,-61.8],[-74.9,-63.5],[-82.1,-60.6],[-82.5,-61.9],[-86.1,-63.2],[-89.3,-65.1],[-105.5,-62.2],[-97,-67.5],[-94.3,-69.8],[-87.1,-70.5],[-80.3,-69.9],[-91.6,-73.5],[-93.5,-76],[-92.7,-77.2],[-92.5,-80.9],[-88.8,-79],[-80.5,-78.3],[-91.1,-85.1],[-82.2,-85.3],[-104.9,-83.2],[-96.2,-88.1],[-95.4,-89],[-98,-93.7],[-102.5,-98.4],[-78.9,-87.7],[-75.1,-78.8],[-73.4,-81.8],[-71.5,-79.1],[-67.5,-85.7],[-53.6,-86],[-50.3,-83.4],[-44.8,-79.9],[-42,-77.5],[-41.7,-75.7],[-47,-71.8],[-49.1,-66.1],[-70.4,-66.1],[-68.2,-63.5],[-67.3,-63],[-65.7,-60.8],[-64.2,-65.9],[-63.6,-68.6],[-61.7,-67.3],[-68,-67.1],[-69.7,-71.3],[-68.9,-74.8],[-62,-73.5],[-62,-76.6],[-60,-70.8],[-60.3,-79.9],[-59.8,-79.1],[-56.4,-69.1],[-56,-68],[-56.4,-74.2],[-56.2,-72.9],[-54.1,-73.4],[-52.7,-74],[-60,-62.7],[-57.9,-62.4],[-56.9,-59.5],[-54.9,-62.2],[-52.5,-58.4],[-52.1,-53.5],[-48.7,-55.9],[-49,-53],[-47.1,-61.1],[-42.8,-58.5],[-36.1,-62.5],[-31.9,-64.7],[-36.3,-67],[-30.5,-69.5],[-29.6,-72.8],[-25.7,-54.7],[-22.1,-55.1],[-23.2,-47.5],[-15.6,-44.8],[-32.1,-50.3],[-34.7,-49.4],[-37.2,-50.4],[-36.5,-47.8],[-34.3,-45.7],[-33.2,-44.9],[-35.2,-42.8],[-41.9,-50.5],[-45.7,-48.7],[-47.6,-49],[-50.7,-45.8],[-53.4,-45.6],[-52.2,-48.5],[-53.4,-50.6],[-51.1,-39.6],[-52.7,-39],[-53.9,-39],[-55.3,-39.2],[-55.2,-41.5],[-57.9,-39],[-58.3,-42.8],[-57.3,-44.7],[-60.7,-45.6],[-60.4,-49],[-59.2,-48.7],[-57.9,-52],[-56.8,-52.7],[-49.3,-40.1],[-47.8,-39.4],[-46.5,-38.7],[-44.8,-41.9],[-42.6,-39.4],[-41.5,-39.8],[-39.7,-41.5],[-33.7,-40.6],[-29.9,-40.9],[-26.2,-41.1],[-22,-36.6],[-16.6,-31.4],[-14.7,-31.7],[-14,-28],[-17,-29.7],[-10.7,-26.1],[-8.5,-23.7],[-10,-20],[-7.4,-17.5],[0.2,-8.6],[1.8,-9.5],[4.1,-6.8],[4.4,-9.2],[-1.1,-6.5],[-4.6,-11.6],[5,3],[7,5],[9,7],[10,9],[11,5],[12,10],[13,7],[15,6],[17,5],[18,8],[20,7],[22,8],[24,8],[26,9],[26,11],[14,9],[6,1.5],[3,1],[8,3],[10,2],[4,-2],[7,-1],[12,4]];

const panelList = [
  {id:'a', col:0, row:0, points:pointsA, cloud:cloudA, mid:midA, dense:denseA, core:coreA, fit:fitA, inset:12},
  {id:'b', col:1, row:0, points:pointsB, cloud:cloudB, mid:midB, dense:denseB, core:coreB, fit:fitB, inset:9},
  {id:'c', col:0, row:1, points:pointsC, cloud:cloudC, mid:midC, dense:denseC, core:coreC, fit:fitC, inset:12},
  {id:'d', col:1, row:1, points:pointsD, cloud:cloudD, mid:midD, dense:denseD, core:coreD, fit:fitD, inset:9},
  {id:'e', col:0, row:2, points:pointsE, cloud:cloudE, mid:midE, dense:denseE, core:coreE, fit:fitE, inset:12},
  {id:'f', col:1, row:2, points:pointsF, cloud:cloudF, mid:midF, dense:denseF, core:coreF, fit:fitF, inset:9}
];

const NS = 'http://www.w3.org/2000/svg';
const colLeft = [203.6, 1138.6];
const rowTop = [104, 554, 1004];
const plotW = 885.4;
const plotH = 434;
const xMin = -110, xMax = 50, yMin = -100, yMax = 40;
const root = document.getElementById('panels');
const defs = document.querySelector('#chart defs');

function scaleX(panel, v) { return colLeft[panel.col] + (v - xMin) / (xMax - xMin) * plotW; }
function scaleY(panel, v) { return rowTop[panel.row] + (yMax - v) / (yMax - yMin) * plotH; }

function shape(tag, attrs) {
  const node = document.createElementNS(NS, tag);
  for (const k in attrs) node.setAttribute(k, attrs[k]);
  return node;
}
function polyPoints(panel, list) {
  return list.map(function (p) { return scaleX(panel, p[0]).toFixed(1) + ',' + scaleY(panel, p[1]).toFixed(1); }).join(' ');
}

panelList.forEach(function (panel) {
  const L = colLeft[panel.col], T = rowTop[panel.row], R = L + plotW, B = T + plotH;
  const g = shape('g', {});
  
  
  root.appendChild(g);

  const clip = shape('clipPath', {id: 'clip-' + panel.id});
  clip.appendChild(shape('rect', {x: L, y: T, width: plotW, height: plotH}));
  defs.appendChild(clip);

  xTicks.forEach(function (t) {
    const X = scaleX(panel, t);
    if (t < xMax) {
      const grid = shape('line', {x1: X, x2: X, y1: T, y2: B, stroke: '#dcdcdc', 'stroke-width': 1.5});
      
      
      g.appendChild(grid);
    }
  });
  yTicks.forEach(function (t) {
    const Y = scaleY(panel, t);
    const grid = shape('line', {x1: L, x2: R, y1: Y, y2: Y, stroke: '#e4e4e4', 'stroke-width': 2});
    
    
    g.appendChild(grid);
  });

  const plot = shape('g', {'clip-path': 'url(#clip-' + panel.id + ')'});
  
  
  g.appendChild(plot);

  const cloudLayer = shape('g', {filter: 'url(#jitter)'});
  
  
  plot.appendChild(cloudLayer);

  const cloudFill = shape('polygon', {points: polyPoints(panel, panel.cloud), fill: 'url(#scatterA)'});
  
  
  cloudLayer.appendChild(cloudFill);

  const midFillB = shape('polygon', {points: polyPoints(panel, panel.mid), fill: 'url(#scatterB)'});
  
  
  cloudLayer.appendChild(midFillB);

  const midFillC = shape('polygon', {points: polyPoints(panel, panel.mid), fill: 'url(#scatterC)'});
  
  
  cloudLayer.appendChild(midFillC);

  const denseFill = shape('polygon', {points: polyPoints(panel, panel.dense), fill: 'url(#scatterD)'});
  
  
  cloudLayer.appendChild(denseFill);

  const denseFillA = shape('polygon', {points: polyPoints(panel, panel.dense), fill: 'url(#scatterA)', transform: 'translate(11,17)'});
  
  
  cloudLayer.appendChild(denseFillA);

  const coreFill = shape('polygon', {points: polyPoints(panel, panel.core), fill: '#0072BD', filter: 'url(#rough)'});
  
  
  plot.appendChild(coreFill);

  panel.points.forEach(function (p) {
    const dot = shape('circle', {cx: scaleX(panel, p[0]).toFixed(1), cy: scaleY(panel, p[1]).toFixed(1), r: 2.3, fill: '#0072BD'});
    
    
    plot.appendChild(dot);
  });

  const identity = shape('line', {x1: scaleX(panel, identityLine[0][0]), y1: scaleY(panel, identityLine[0][1]), x2: scaleX(panel, identityLine[1][0]), y2: scaleY(panel, identityLine[1][1]), stroke: '#000', 'stroke-width': panel.col ? 4 : 3.6});
  
  
  plot.appendChild(identity);

  const fit = shape('line', {x1: scaleX(panel, panel.fit[0][0]), y1: scaleY(panel, panel.fit[0][1]), x2: scaleX(panel, panel.fit[1][0]), y2: scaleY(panel, panel.fit[1][1]), stroke: '#f00', 'stroke-width': panel.col ? 4.2 : 3.2});
  
  
  plot.appendChild(fit);

  const box = shape('rect', {x: L, y: T, width: plotW, height: plotH, fill: 'none', stroke: '#4d4d4d', 'stroke-width': 2});
  
  
  g.appendChild(box);

  xTicks.forEach(function (t) {
    const X = scaleX(panel, t);
    if (t < xMax) {
      const tickB = shape('line', {x1: X, x2: X, y1: B, y2: B - 9, stroke: '#4d4d4d', 'stroke-width': 1.5});
      
      
      g.appendChild(tickB);
      const tickT = shape('line', {x1: X, x2: X, y1: T, y2: T + 9, stroke: '#4d4d4d', 'stroke-width': 1.5});
      
      
      g.appendChild(tickT);
    }
    if (panel.row === 2) {
      const label = shape('text', {x: X, y: 1491.5, 'font-size': 42, 'text-anchor': 'middle'});
      label.textContent = String(t);
      
      
      g.appendChild(label);
    }
  });
  yTicks.forEach(function (t) {
    const Y = scaleY(panel, t);
    const tickL = shape('line', {x1: L, x2: L + 9, y1: Y, y2: Y, stroke: '#4d4d4d', 'stroke-width': 1.5});
    
    
    g.appendChild(tickL);
    const tickR = shape('line', {x1: R, x2: R - 9, y1: Y, y2: Y, stroke: '#4d4d4d', 'stroke-width': 1.5});
    
    
    g.appendChild(tickR);
    if (panel.col === 0) {
      const label = shape('text', {x: 189, y: Y + 15.3, 'font-size': 42, 'text-anchor': 'end'});
      label.textContent = String(t);
      
      
      g.appendChild(label);
    }
  });

  const tag = shape('text', {x: R - panel.inset, y: B - 20.5, 'font-size': 40, 'text-anchor': 'end'});
  tag.textContent = '(' + panel.id + ')';
  
  
  g.appendChild(tag);
});
</script>
</body>
</html>
